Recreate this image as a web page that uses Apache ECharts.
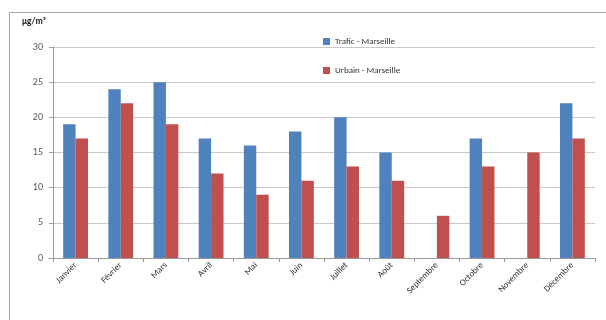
<!DOCTYPE html>
<html>
<head>
<meta charset="utf-8">
<script src="https://cdn.jsdelivr.net/npm/echarts@6/dist/echarts.min.js"></script>
<style>
  html, body { margin: 0; padding: 0; background: #fff; }
  #chart { width: 606px; height: 320px; }
</style>
</head>
<body>
<div id="chart"></div>
<script>
// Monthly concentrations, Marseille (µg/m³)
const months = ['Janvier', 'Février', 'Mars', 'Avril', 'Mai', 'Juin', 'Juillet', 'Août', 'Septembre', 'Octobre', 'Novembre', 'Décembre'];
const traficMarseille = [19, 24, 25, 17, 16, 18, 20, 15, null, 17, null, 22];
const urbainMarseille = [17, 22, 19, 12, 9, 11, 13, 11, 6, 13, 15, 17];
const yTicks = { min: 0, max: 30, interval: 5 };

const chart = echarts.init(document.getElementById('chart'), null, { renderer: 'canvas' });
const font = 'Calibri, Carlito, "Liberation Sans", Arial, sans-serif';

chart.setOption({
  animation: false,
  backgroundColor: '#ffffff',
  graphic: [
    {
      type: 'rect',
      shape: { x: 9.5, y: 12.5, width: 620, height: 330 },
      style: { fill: 'none', stroke: '#a6a6a6', lineWidth: 1 },
      silent: true
    },
    {
      type: 'text',
      left: 22, top: 17,
      style: { text: 'µg/m³', fill: '#222', font: 'bold 9px ' + font }
    }
  ],
  legend: {
    orient: 'vertical',
    left: 318, top: 32,
    itemWidth: 7, itemHeight: 7, itemGap: 20,
    icon: 'rect',
    textStyle: { fontFamily: font, fontSize: 9, color: '#333' },
    data: ['Trafic - Marseille', 'Urbain - Marseille']
  },
  grid: { left: 53, right: 11, top: 47, bottom: 62 },
  xAxis: {
    type: 'category',
    data: months,
    boundaryGap: true,
    axisLine: { lineStyle: { color: '#9a9a9a' } },
    axisTick: { show: true, length: 4, lineStyle: { color: '#9a9a9a' } },
    axisLabel: { rotate: 45, interval: 0, fontFamily: font, fontSize: 9, color: '#333', margin: 6 }
  },
  yAxis: {
    type: 'value',
    min: yTicks.min, max: yTicks.max, interval: yTicks.interval,
    axisLine: { show: true, lineStyle: { color: '#9a9a9a' } },
    axisTick: { show: true, length: 4, lineStyle: { color: '#9a9a9a' } },
    axisLabel: { fontFamily: font, fontSize: 10, color: '#555', margin: 10 },
    splitLine: { lineStyle: { color: '#c8c8c8', width: 1 } }
  },
  series: [
    {
      name: 'Trafic - Marseille',
      type: 'bar',
      data: traficMarseille,
      itemStyle: { color: '#4f81bd' },
      barGap: '0%',
      barCategoryGap: '45%'
    },
    {
      name: 'Urbain - Marseille',
      type: 'bar',
      data: urbainMarseille,
      itemStyle: { color: '#c0504d' },
      barGap: '0%',
      barCategoryGap: '45%'
    }
  ]
});
</script>
</body>
</html>
